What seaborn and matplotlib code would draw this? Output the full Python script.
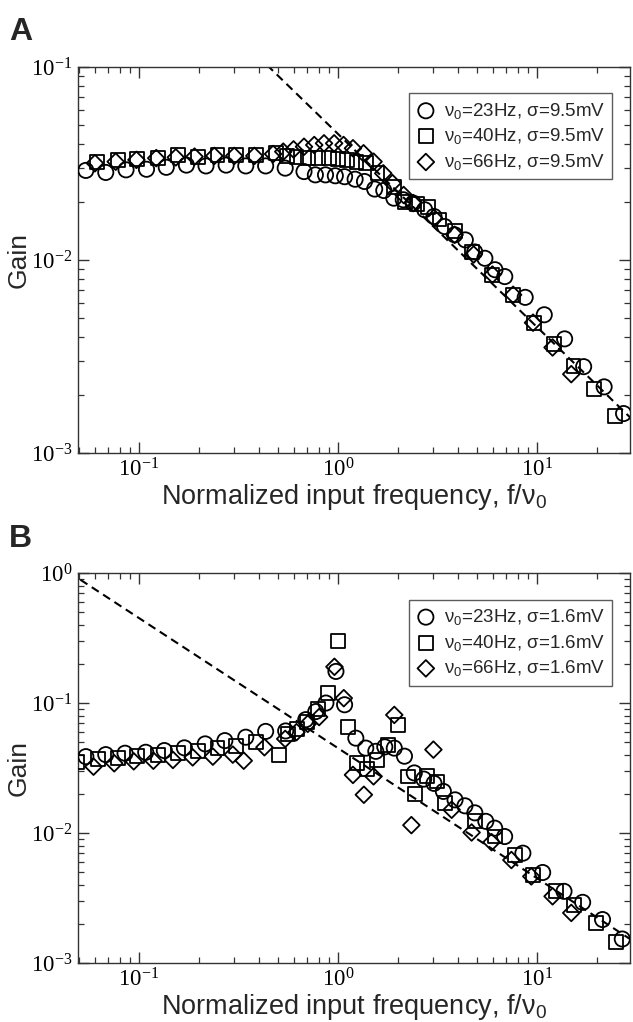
import numpy as np
import pandas as pd
import matplotlib
matplotlib.use("Agg")
import matplotlib.pyplot as plt
import matplotlib.ticker as mticker
import seaborn as sns

# ──────────────────────────────────────────────
# Data
# ──────────────────────────────────────────────
# Panel A : sigma = 9.5 mV
a23_x = [0.054, 0.068, 0.086, 0.109, 0.137, 0.173, 0.217, 0.274, 0.344, 0.433, 0.543,
         0.675, 0.77, 0.866, 0.97, 1.08, 1.22, 1.36, 1.53, 1.70, 1.91, 2.13, 2.39, 2.73,
         3.04, 3.44, 3.86, 4.37, 4.87, 5.48, 6.16, 6.90, 8.74, 10.9, 13.8, 17.2, 21.8, 27.3]
a23_y = [0.0291, 0.0284, 0.0293, 0.0295, 0.0302, 0.0310, 0.0307, 0.0310, 0.0307, 0.0307, 0.0299,
         0.0287, 0.0276, 0.0276, 0.0273, 0.0270, 0.0262, 0.0255, 0.0233, 0.0229, 0.0209, 0.0205,
         0.0197, 0.0182, 0.0168, 0.0149, 0.0135, 0.0127, 0.0110, 0.0102, 0.0089, 0.0082,
         0.0064, 0.0052, 0.0039, 0.0028, 0.0022, 0.0016]

a40_x = [0.0614, 0.078, 0.098, 0.124, 0.157, 0.197, 0.248, 0.308, 0.386, 0.487, 0.555,
         0.619, 0.706, 0.797, 0.897, 1.0, 1.115, 1.24, 1.39, 1.58, 1.92, 2.17, 2.50, 2.85,
         3.24, 3.86, 4.70, 5.98, 7.6, 9.66, 12.2, 15.3, 19.4, 24.7]
a40_y = [0.0323, 0.0330, 0.0332, 0.0339, 0.0350, 0.0343, 0.0350, 0.0350, 0.0350, 0.0357, 0.0346,
         0.0343, 0.0337, 0.0337, 0.0337, 0.0332, 0.0330, 0.0323, 0.0317, 0.0281, 0.0240, 0.0199,
         0.0195, 0.0188, 0.0162, 0.0141, 0.0110, 0.0084, 0.0066, 0.00473, 0.00366, 0.00283,
         0.00214, 0.00156]

a66_x = [0.060, 0.0763, 0.097, 0.122, 0.153, 0.19, 0.239, 0.301, 0.38, 0.472, 0.531, 0.598,
         0.675, 0.76, 0.851, 0.957, 1.067, 1.19, 1.345, 1.51, 1.69, 1.88, 2.14, 2.39, 3.04,
         3.86, 4.81, 5.98, 7.6, 9.57, 12.0, 14.9]
a66_y = [0.0317, 0.0323, 0.0330, 0.0337, 0.0340, 0.0343, 0.0346, 0.0346, 0.0346, 0.0354, 0.0364,
         0.0374, 0.0386, 0.0394, 0.0402, 0.0402, 0.0394, 0.0379, 0.0357, 0.0323, 0.0281, 0.0250,
         0.0217, 0.0197, 0.0165, 0.0135, 0.01067, 0.0084, 0.0066, 0.00473, 0.00352, 0.00256]

# Panel B : sigma = 1.6 mV
b23_x = [0.054, 0.068, 0.085, 0.108, 0.134, 0.169, 0.215, 0.270, 0.344, 0.433, 0.546, 0.689,
         0.774, 0.87, 0.977, 1.08, 1.23, 1.38, 1.55, 1.72, 1.92, 2.16, 2.42, 2.70, 3.04, 3.39,
         3.88, 4.35, 4.88, 5.54, 6.14, 6.89, 8.51, 10.7, 13.7, 17.0, 21.4, 26.9]
b23_y = [0.0387, 0.0401, 0.0411, 0.0418, 0.0431, 0.0452, 0.0485, 0.0514, 0.0546, 0.0605, 0.061,
         0.0745, 0.086, 0.100, 0.175, 0.097, 0.0537, 0.045, 0.0425, 0.046, 0.045, 0.039, 0.029,
         0.026, 0.0241, 0.0209, 0.0180, 0.0162, 0.0143, 0.0123, 0.0109, 0.0094, 0.0070,
         0.00497, 0.00356, 0.00293, 0.00216, 0.00153]

b40_x = [0.049, 0.062, 0.078, 0.098, 0.124, 0.157, 0.197, 0.248, 0.308, 0.386, 0.503, 0.56,
         0.62, 0.70, 0.79, 0.893, 1.0, 1.127, 1.25, 1.40, 1.57, 1.78, 2.0, 2.25, 2.45, 2.80,
         3.14, 3.45, 4.88, 6.14, 7.73, 9.55, 12.5, 15.4, 19.8, 24.9]
b40_y = [0.0354, 0.037, 0.038, 0.039, 0.040, 0.041, 0.043, 0.045, 0.047, 0.050, 0.040, 0.058,
         0.063, 0.072, 0.090, 0.119, 0.30, 0.065, 0.0346, 0.031, 0.0366, 0.0477, 0.068, 0.0272,
         0.020, 0.0273, 0.0249, 0.0170, 0.0123, 0.0094, 0.0068, 0.00479, 0.00356, 0.00281,
         0.00203, 0.00144]

b66_x = [0.059, 0.075, 0.094, 0.118, 0.148, 0.186, 0.235, 0.296, 0.336, 0.427, 0.543, 0.619,
         0.705, 0.804, 0.96, 1.07, 1.19, 1.35, 1.51, 1.92, 2.34, 3.02, 3.73, 4.70, 5.92, 7.45,
         9.38, 12.0, 14.9]
b66_y = [0.0324, 0.0344, 0.0356, 0.036, 0.0365, 0.0382, 0.0387, 0.0401, 0.036, 0.0457, 0.053,
         0.0597, 0.0692, 0.078, 0.19, 0.109, 0.028, 0.0197, 0.0273, 0.081, 0.0115, 0.0438,
         0.0151, 0.0101, 0.0085, 0.0062, 0.00464, 0.00326, 0.00243]

# dashed asymptote: gain = c / (f/nu0)
asym_c = 0.045
asym_x = [0.03, 40.0]

series_names = ["23Hz", "40Hz", "66Hz"]
markers = {"23Hz": "o", "40Hz": "s", "66Hz": "D"}
sizes = {"23Hz": 120, "40Hz": 100, "66Hz": 72}


def make_frame(xs, ys):
    parts = []
    for name, x, y in zip(series_names, xs, ys):
        parts.append(pd.DataFrame({"f": x, "gain": y, "nu0": name}))
    return pd.concat(parts, ignore_index=True)


df_a = make_frame([a23_x, a40_x, a66_x], [a23_y, a40_y, a66_y])
df_b = make_frame([b23_x, b40_x, b66_x], [b23_y, b40_y, b66_y])

# ──────────────────────────────────────────────
# Style
# ──────────────────────────────────────────────
sns.set_theme(style="ticks")
plt.rcParams["font.family"] = ["Liberation Sans", "DejaVu Sans"]
plt.rcParams["axes.linewidth"] = 1.0
plt.rcParams["axes.edgecolor"] = "#333333"

fig = plt.figure(figsize=(6.33, 10.22), dpi=100)
ax_a = fig.add_axes([0.1232, 0.5568, 0.872, 0.3777])
ax_b = fig.add_axes([0.1232, 0.0577, 0.872, 0.3816])


def draw_panel(ax, df, sigma, ylim):
    for name in series_names:
        sub = df[df["nu0"] == name]
        sns.scatterplot(
            data=sub, x="f", y="gain", ax=ax,
            marker=markers[name], s=sizes[name],
            color="black", facecolor="none", edgecolor="black", linewidth=1.3,
            label=f"ν$\\mathregular{{_0}}$={name[:2]}Hz, σ={sigma}mV",
            zorder=3,
        )
    sns.lineplot(
        x=asym_x, y=[asym_c / v for v in asym_x], ax=ax,
        color="black", linestyle=(0, (4, 2.5)), linewidth=1.5, zorder=2,
    )
    ax.set_xscale("log")
    ax.set_yscale("log")
    ax.set_xlim(0.0493, 29.4)
    ax.set_ylim(*ylim)
    ax.xaxis.set_minor_formatter(mticker.NullFormatter())
    ax.yaxis.set_minor_formatter(mticker.NullFormatter())
    ax.xaxis.set_minor_locator(mticker.LogLocator(base=10, subs=np.arange(2, 10)))
    ax.yaxis.set_minor_locator(mticker.LogLocator(base=10, subs=np.arange(2, 10)))
    ax.tick_params(which="both", direction="in", top=True, right=True,
                   colors="#333333", labelcolor="black")
    ax.tick_params(which="major", length=8, width=1.0, labelsize=16.5, pad=4,
                   labelfontfamily="Liberation Serif")
    ax.tick_params(which="minor", length=4, width=0.9)
    ax.set_xlabel("Normalized input frequency, f/ν$\\mathregular{_0}$", fontsize=19.5, labelpad=0.5)
    ax.set_ylabel("Gain", fontsize=19, labelpad=0)

    handles, labels = ax.get_legend_handles_labels()
    leg = ax.legend(
        handles[:3], labels[:3], loc="upper right", bbox_to_anchor=(0.968, 0.932),
        fontsize=13.5, frameon=True, fancybox=False, edgecolor="#333333",
        handletextpad=0.45, labelspacing=0.3, borderpad=0.4, handlelength=1.0,
        borderaxespad=0,
    )
    leg.get_frame().set_linewidth(1.0)


draw_panel(ax_a, df_a, "9.5", (1e-3, 1e-1))
draw_panel(ax_b, df_b, "1.6", (1e-3, 1e0))

fig.text(0.014, 0.983, "A", fontsize=23, fontweight="bold", va="top", ha="left")
fig.text(0.014, 0.487, "B", fontsize=23, fontweight="bold", va="top", ha="left")

fig.savefig("out.png", dpi=100, facecolor="white")
